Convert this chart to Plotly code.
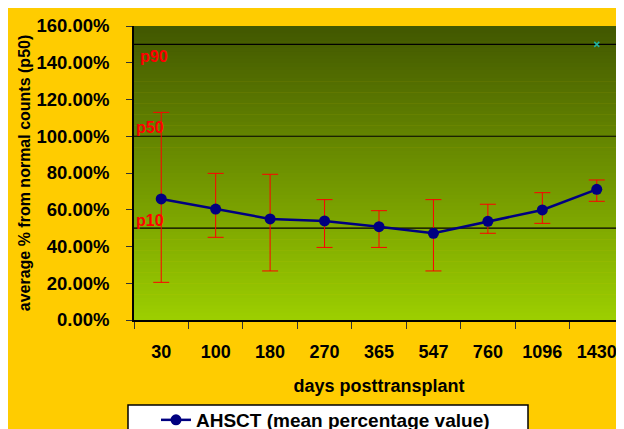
import plotly.graph_objects as go

# ---- data ----
days = ["30", "100", "180", "270", "365", "547", "760", "1096", "1430"]
mean_pct = [65.9, 60.4, 55.0, 53.9, 50.8, 47.2, 53.7, 59.9, 71.1]
upper_pct = [113.0, 79.8, 79.3, 65.5, 59.5, 65.5, 63.0, 69.3, 76.2]
lower_pct = [20.5, 45.0, 26.7, 39.5, 39.5, 26.7, 47.2, 52.6, 64.6]
ref_levels = [150, 100, 50]
ref_labels = ["p90", "p50", "p10"]
stray_x = ["1430"]
stray_y = [150.0]

err_plus = [u - m for u, m in zip(upper_pct, mean_pct)]
err_minus = [m - l for m, l in zip(mean_pct, lower_pct)]

OFF = 8  # page body margin
W, H = 616, 421
L, R, T, B = 126, 0, 18, 109
pw, ph = W - L - R, H - T - B

def px(sx):
    return (sx - OFF - L) / pw

def py(sy):
    return (H - B - (sy - OFF)) / ph

fig = go.Figure()

fig.add_trace(go.Scatter(
    x=days, y=mean_pct, mode="lines+markers",
    name="AHSCT (mean percentage value)",
    line=dict(color="#000080", width=2.5),
    marker=dict(color="#000080", size=11),
    error_y=dict(type="data", symmetric=False, array=err_plus, arrayminus=err_minus,
                 color="#FF0000", thickness=1, width=8),
))
fig.add_trace(go.Scatter(
    x=stray_x, y=stray_y, mode="markers", showlegend=False,
    marker=dict(symbol="x-thin", size=5, color="#20B0A0", line=dict(color="#20B0A0", width=1.5)),
    hoverinfo="skip",
))

shapes = []
# gradient plot background
n = 80
top_c = (66, 88, 0)
bot_c = (156, 206, 0)
for i in range(n):
    f = i / (n - 1)
    c = tuple(round(top_c[k] + (bot_c[k] - top_c[k]) * f) for k in range(3))
    shapes.append(dict(type="rect", xref="x domain", yref="y domain",
                       x0=0, x1=1, y0=1 - (i + 1) / n - 0.002, y1=1 - i / n,
                       fillcolor="rgb(%d,%d,%d)" % c, line=dict(width=0), layer="below"))

for lv in ref_levels:
    shapes.append(dict(type="line", xref="x domain", yref="y", x0=0, x1=1, y0=lv, y1=lv,
                       line=dict(color="black", width=1.2), layer="below"))

# legend box
shapes.append(dict(type="rect", xref="paper", yref="paper", x0=px(128), x1=px(528), y0=py(445), y1=py(405),
                   fillcolor="white", line=dict(color="black", width=1.5), layer="below"))

annotations = []
label_y = [143.3, 104.5, 54.4]
label_x = [138, 134, 134]
for lab, yy, xx in zip(ref_labels, label_y, label_x):
    annotations.append(dict(text=lab, xref="paper", yref="y", x=px(xx), y=yy, xanchor="left",
                            yanchor="middle", showarrow=False,
                            font=dict(family="Liberation Sans, Arial", size=16, color="#FF0000", weight="bold")))

fig.update_layout(
    width=W, height=H,
    margin=dict(l=L, r=R, t=T, b=B, autoexpand=False),
    paper_bgcolor="#FFCC00",
    plot_bgcolor="rgba(0,0,0,0)",
    font=dict(family="Liberation Sans, Arial", color="black", weight="bold"),
    shapes=shapes,
    annotations=annotations,
    showlegend=True,
    legend=dict(x=px(156), y=py(401), xanchor="left", yanchor="top",
                bgcolor="rgba(0,0,0,0)", borderwidth=0,
                font=dict(size=19, family="Liberation Sans, Arial", weight="bold")),
    xaxis=dict(
        type="category", range=[-0.5, 8.5], showgrid=False, zeroline=False,
        showline=True, linecolor="black", linewidth=1.5,
        ticks="outside", tickson="boundaries", ticklen=7, tickcolor="#333",
        tickfont=dict(size=18, weight="bold"), ticklabelstandoff=15,
        title=dict(text="days posttransplant", font=dict(size=18, weight="bold"), standoff=18),
    ),
    yaxis=dict(
        range=[0, 160], dtick=20, tickformat=".2f", ticksuffix="%",
        showgrid=False, zeroline=False,
        showline=True, linecolor="black", linewidth=1.5,
        ticks="outside", ticklen=6, tickcolor="#333",
        tickfont=dict(size=18.5, weight="bold"), ticklabelstandoff=13,
        title=dict(text="average % from normal counts (p50)", font=dict(size=16, weight="bold"), standoff=2),
    ),
)

fig.write_html("out.html")
